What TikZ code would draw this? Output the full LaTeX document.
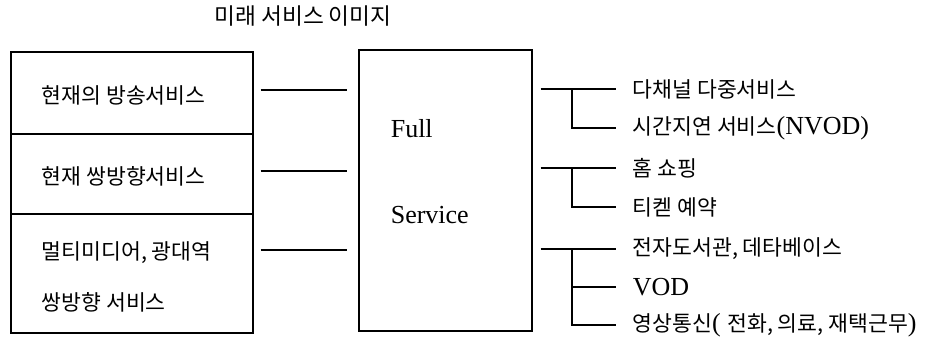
\documentclass[tikz,border=0pt]{standalone}
\usepackage{fontspec}
\setmainfont{Liberation Serif}
\newfontfamily\kr[Scale=0.83]{Noto Sans CJK KR}
\begin{document}
\begin{tikzpicture}[x=0.75pt,y=-0.75pt,
  font=\fontsize{19.5}{23}\selectfont,
  line width=1.2pt,
  boxnode/.style={draw, rectangle, inner sep=0pt, anchor=north west},
  txt/.style={inner sep=0pt, anchor=west},
  conn/.style={line width=1.2pt}]
\useasboundingbox (0,0) rectangle (941,353);

% title
\node[inner sep=0pt, font=\fontsize{20.5}{24}\selectfont] (title) at (303,16) {\kr 미래 서비스 이미지};

% left boxes
\node[boxnode, minimum width=181.5pt, minimum height=61.5pt] (b1) at (10,51) {};
\node[boxnode, minimum width=181.5pt, minimum height=60pt] (b2) at (10,133) {};
\node[boxnode, minimum width=181.5pt, minimum height=89.25pt] (b3) at (10,213) {};

\node[txt] (l1) at (41,95) {\kr 현재의 방송서비스};
\node[txt] (l2) at (41,176) {\kr 현재 쌍방향서비스};
\node[txt] (l3) at (41,253) {\kr 멀티미디어, 광대역};
\node[txt] (l4) at (41,302) {\kr 쌍방향 서비스};

% centre box
\node[boxnode, minimum width=129.75pt, minimum height=210.75pt] (c) at (358,49) {};
\node[txt] (full) at (390,129) {Full};
\node[txt] (serv) at (390,215) {Service};

% left connectors
\draw[conn] ([xshift=5.25pt]b1.east |- 0,90) -- ([xshift=-8.25pt]c.west |- 0,90);
\draw[conn] ([xshift=5.25pt]b2.east |- 0,171) -- ([xshift=-8.25pt]c.west |- 0,171);
\draw[conn] ([xshift=5.25pt]b3.east |- 0,250) -- ([xshift=-8.25pt]c.west |- 0,250);

% right labels
\node[txt] (r1) at (632,89) {\kr 다채널 다중서비스};
\node[txt] (r2) at (632,128) {{\kr 시간지연 서비스}(NVOD)};
\node[txt] (r3) at (632,168) {\kr 홈 쇼핑};
\node[txt] (r4) at (632,207) {\kr 티켇 예약};
\node[txt] (r5) at (632,249) {\kr 전자도서관, 데타베이스};
\node[txt] (r6) at (632,287) {VOD};
\node[txt] (r7) at (632,325) {{\kr 영상통신}( {\kr 전화, 의료, 재택근무})};

% right tree connectors
\draw[conn] ([xshift=6pt]c.east |- r1.west) -- ([xshift=-12pt]r1.west);
\draw[conn] ([xshift=-45pt]r1.west) |- ([xshift=-12pt]r2.west);
\draw[conn] ([xshift=6pt]c.east |- r3.west) -- ([xshift=-12pt]r3.west);
\draw[conn] ([xshift=-45pt]r3.west) |- ([xshift=-12pt]r4.west);
\draw[conn] ([xshift=6pt]c.east |- r5.west) -- ([xshift=-12pt]r5.west);
\draw[conn] ([xshift=-45pt]r5.west) |- ([xshift=-12pt]r7.west);
\draw[conn] ([xshift=-45pt]r6.west) -- ([xshift=-12pt]r6.west);
\end{tikzpicture}
\end{document}
